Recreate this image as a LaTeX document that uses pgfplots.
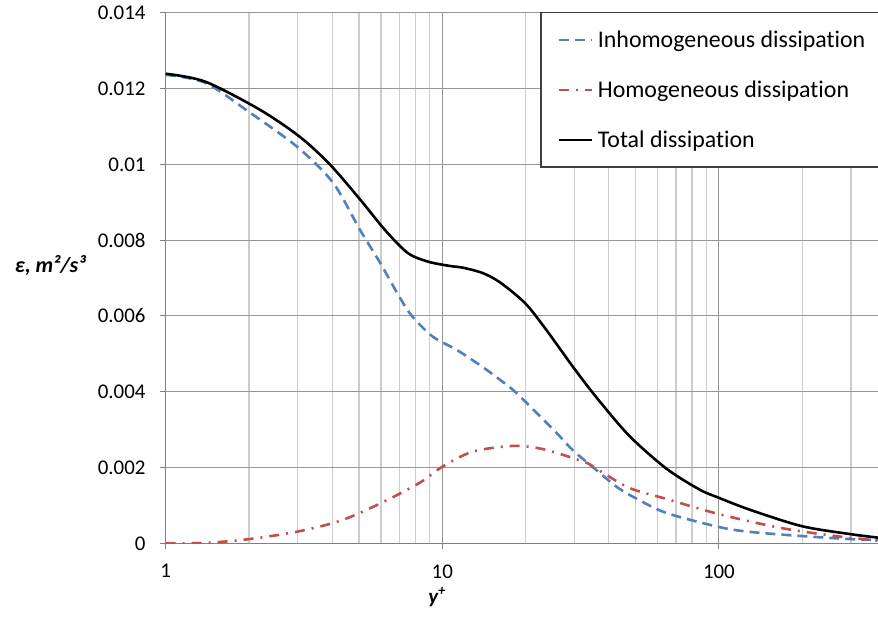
\documentclass[border=0pt]{standalone}
\usepackage{fontspec}
\setmainfont{Carlito}[Ligatures=NoCommon]
\usepackage{pgfplots}
\pgfplotsset{compat=1.18}
\definecolor{exblue}{RGB}{79,129,189}
\definecolor{exred}{RGB}{192,80,77}
\definecolor{majgrid}{RGB}{150,150,150}
\definecolor{mingrid}{RGB}{205,205,205}
\definecolor{axgray}{RGB}{128,128,128}
\begin{document}
\begin{tikzpicture}
\begin{axis}[
  scale only axis,
  width=712.3bp, height=530.6bp,
  xmode=log,
  xmin=1, xmax=376,
  ymin=0, ymax=0.014,
  axis x line*=bottom, axis y line*=left,
  axis line style={-, color=axgray, line width=1.2bp},
  xtick={1,10,100}, xticklabels={1,10,100},
  minor xtick={2,3,4,5,6,7,8,9,20,30,40,50,60,70,80,90,200,300},
  ytick={0,0.002,0.004,0.006,0.008,0.01,0.012,0.014},
  yticklabels={0,0.002,0.004,0.006,0.008,0.01,0.012,0.014},
  scaled y ticks=false,
  tick align=outside,
  major tick length=6bp, minor tick length=0bp,
  tick style={color=axgray, line width=1bp},
  xmajorgrids, xminorgrids, ymajorgrids,
  major grid style={color=majgrid, line width=1bp},
  minor grid style={color=mingrid, line width=1.3bp},
  ticklabel style={font=\fontsize{21}{25}\selectfont, text=black},
  yticklabel style={anchor=east, inner sep=0pt, xshift=-14bp},
  xticklabel style={anchor=north, inner sep=0pt, yshift=-15bp},
  every axis y label/.style={at={(rel axis cs:-0.1620,0.5245)}, anchor=center, font=\fontsize{22}{25}\selectfont\bfseries\itshape},
  every axis x label/.style={at={(rel axis cs:0.381,-0.1012)}, anchor=center, font=\fontsize{21}{25}\selectfont\bfseries\itshape},
  ylabel={ε, m²/s³},
  xlabel={y\textsuperscript{+}},
  legend cell align=left,
  legend image code/.code={\draw[#1] (0bp,0bp) -- (33bp,0bp); \path (38bp,0bp);},
  legend style={at={(rel axis cs:0.527,1)}, anchor=north west, name=leg,
    draw=none, fill=white,
    font=\fontsize{24}{28}\selectfont,
    inner xsep=16bp, inner ysep=16bp, row sep=28bp,
    nodes={inner sep=0pt, text height=19bp, text depth=3bp}},
]
\coordinate (sw) at (rel axis cs:0,0);
\coordinate (ne) at (rel axis cs:1,1);
\addplot[exblue, line width=2.6bp, dash pattern=on 10bp off 6bp, smooth, tension=0.5] coordinates {
(1,0.01236) (1.39,0.01215) (2.02,0.01136) (3.0,0.01045) (4.03,0.00951)
(5.04,0.00827) (5.96,0.0074) (7.0,0.0065) (7.8,0.00598) (9.25,0.00545)
(11.3,0.0051) (14.0,0.00465) (16.2,0.00431) (18.0,0.00405) (20.2,0.0037)
(25.9,0.00291) (29.6,0.00246) (34.9,0.00202) (42.7,0.00149) (50.6,0.00117)
(64.6,0.0008) (100,0.00043) (130,0.0003) (200,0.00019) (300,0.00011) (376,0.00009)
};
\addlegendentry{Inhomogeneous dissipation\hspace{30bp}}
\addplot[exred, line width=2.6bp, dash pattern=on 10bp off 7bp on 2bp off 7bp, smooth, tension=0.5] coordinates {
(1,0.0) (1.39,0.00001) (2.0,0.00011) (3.0,0.00031) (4.3,0.0006)
(6.0,0.00106) (8.3,0.0016) (10,0.00202) (12.9,0.00242) (18,0.00257)
(22.6,0.0025) (27.4,0.00233) (33.3,0.00212) (36.2,0.00196) (47.5,0.00146)
(64.6,0.00117) (100,0.00077) (166,0.00041) (258,0.0002) (376,0.00007)
};
\addlegendentry{Homogeneous dissipation}
\addplot[black, line width=2.6bp, smooth, tension=0.5] coordinates {
(1,0.01239) (1.39,0.01218) (2.19,0.01144) (3.06,0.01072) (3.93,0.00999)
(5.06,0.00906) (6.2,0.00827) (7.5,0.00766) (8.9,0.00743) (10.6,0.00732)
(11.9,0.00727) (14.0,0.00713) (16.2,0.00688) (19.9,0.00634) (23.5,0.00568)
(30.2,0.00458) (37.2,0.00373) (47.8,0.00281) (64.6,0.00197)
(85,0.00142) (100,0.0012) (130,0.00088) (200,0.00045) (300,0.00024) (376,0.00015)
};
\addlegendentry{Total dissipation}
\end{axis}
\draw[black!75, line width=1.2bp] ([xshift=40bp]leg.north east) -- (leg.north west) -- (leg.south west) -- ([xshift=40bp]leg.south east);
\pgfresetboundingbox
\path ([xshift=-165.7bp,yshift=-76.7bp]sw) rectangle ([yshift=12.7bp]ne);
\end{tikzpicture}
\end{document}
